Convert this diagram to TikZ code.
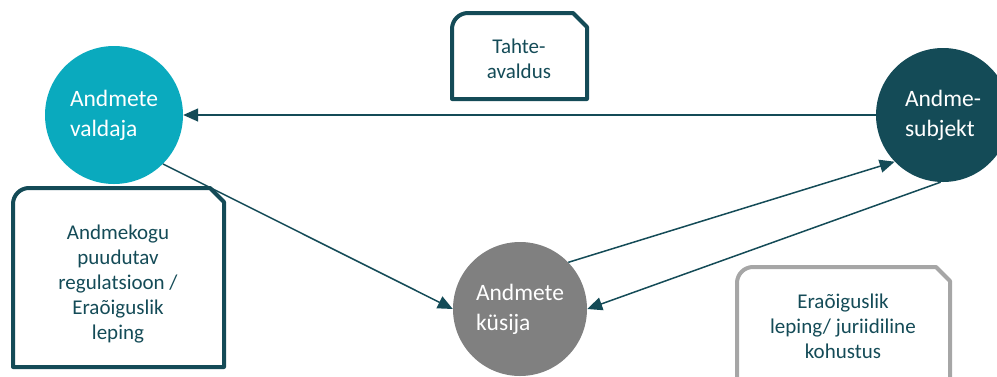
\documentclass[tikz,border=0pt]{standalone}
\usepackage{fontspec}
\setmainfont{Carlito}
\usetikzlibrary{arrows.meta}
\definecolor{valdcol}{RGB}{10,170,190}
\definecolor{darkteal}{RGB}{20,75,87}
\definecolor{askgray}{RGB}{128,128,128}
\definecolor{framegray}{RGB}{166,166,166}
\tikzset{
  party/.style={circle, minimum size=#1, inner sep=0pt, text=white, align=left,
    font=\fontsize{23.5}{30}\selectfont},
  boxtext/.style={text=darkteal, align=center, font=\fontsize{21}{25}\selectfont},
  link/.style={darkteal, line width=1.5pt, -{Triangle[length=15pt,width=13pt]}},
}
% box with one round and one snipped corner
\newcommand{\snipframe}[5]{%
  \draw[#1, line width=4pt, line join=round] (#2,#5) -- (#2,{#3+16})
    arc[start angle=180, end angle=270, radius=16] -- ({#4-14},#3) -- (#4,{#3+14}) -- (#4,#5) -- cycle;
}
\begin{document}
\begin{tikzpicture}[x=1pt,y=-1pt]
\useasboundingbox (0,0) rectangle (997,376);
\node[party=138pt, fill=valdcol] (valdaja) at (114,115) {Andmete\\valdaja};
\node[party=134pt, fill=darkteal] (subjekt) at (943,115) {Andme-\\subjekt};
\node[party=134pt, fill=askgray] (kusija) at (520,309) {Andmete\\küsija};
\snipframe{darkteal}{452}{13}{587}{99}
\node[boxtext] (tahte) at (519,59) {Tahte-\\avaldus};
\snipframe{darkteal}{13}{188}{224}{367}
\node[boxtext] (regul) at (118,284) {Andmekogu\\puudutav\\regulatsioon /\\Eraõiguslik\\leping};
\snipframe{framegray}{737}{267}{950}{390}
\node[boxtext] (kohustus) at (843,326) {Eraõiguslik\\leping/ juriidiline\\kohustus};
\draw[link] (subjekt.west) -- (valdaja.east);
\draw[link] (valdaja.-45) -- (kusija.west);
\draw[link] (kusija.44) -- (subjekt.224);
\draw[link] (subjekt.268) -- (kusija.east);
\end{tikzpicture}
\end{document}
